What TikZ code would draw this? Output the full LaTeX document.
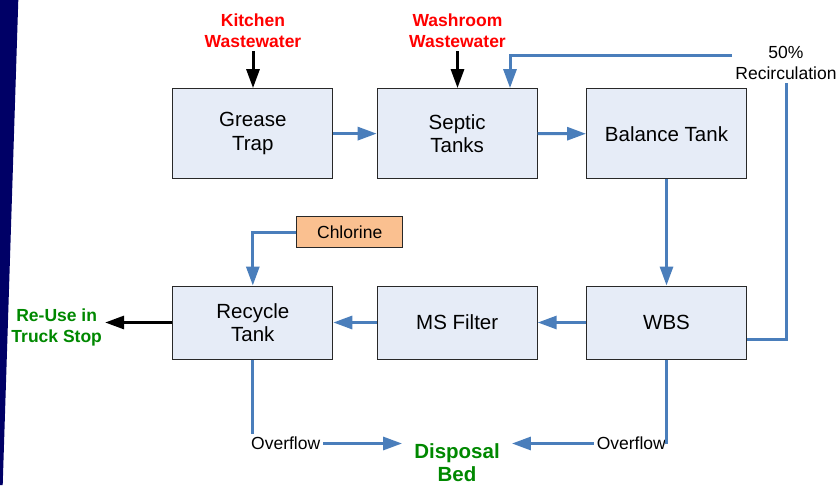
\documentclass[tikz,border=0pt]{standalone}
\usepackage{fontspec}
\setmainfont{Liberation Sans}
\usetikzlibrary{arrows.meta}
\definecolor{flowblue}{RGB}{74,126,187}
\definecolor{boxfill}{RGB}{230,236,247}
\definecolor{chlorfill}{RGB}{250,192,144}
\definecolor{navybar}{RGB}{0,0,102}
\definecolor{lblgreen}{RGB}{0,136,0}
\definecolor{boxline}{RGB}{40,40,40}

\begin{document}
\begin{tikzpicture}[x=1pt,y=-1pt,
  unit/.style={draw=boxline, line width=1pt, fill=boxfill, minimum width=160pt,
    inner sep=0pt, align=center, font=\fontsize{20.5}{23.6}\selectfont},
  toprow/.style={unit, minimum height=90pt},
  lowrow/.style={unit, minimum height=73pt},
  lbl/.style={inner sep=3pt, align=center, font=\fontsize{17.5}{21}\selectfont},
  redlbl/.style={lbl, text=red, font=\fontsize{17.5}{21}\selectfont\bfseries},
  grnlbl/.style={lbl, text=lblgreen, font=\fontsize{17.5}{21}\selectfont\bfseries},
  flow/.style={draw=flowblue, line width=3pt, -{Triangle[length=19pt,width=13pt]}},
  pipe/.style={draw=flowblue, line width=3pt},
  feed/.style={draw=black, line width=3pt, -{Triangle[length=19pt,width=13pt]}}]
\useasboundingbox (0,0) rectangle (837,485);
\fill[navybar] (0,0) -- (18.3,0) -- (2.7,485) -- (0,485) -- cycle;

% treatment units
\node[toprow] (grease) at (252.8,133.6) {Grease\\Trap};
\node[toprow] (septic) at (457.2,133.6) {Septic\\Tanks};
\node[toprow] (balance) at (666.5,133.8) {Balance Tank};
\node[lowrow] (wbs) at (666.5,322.5) {WBS};
\node[lowrow] (msf) at (457.2,322.5) {MS Filter};
\node[lowrow] (recycle) at (252.8,322.5) {Recycle\\Tank};
\node[draw=boxline, line width=1pt, fill=chlorfill, minimum width=106pt, minimum height=31pt,
  inner sep=0pt, font=\fontsize{17.5}{21}\selectfont] (chlor) at (349.7,232.3) {Chlorine};

% inlets and outlets
\node[redlbl, anchor=south] (kitchen) at (253,51) {Kitchen\\Wastewater};
\node[redlbl, anchor=south] (washroom) at (457.5,51) {Washroom\\Wastewater};
\node[lbl] (recirc) at (786,63) {50\%\\Recirculation};
\node[grnlbl] (reuse) at (56.7,327.5) {Re-Use in\\Truck Stop};
\node[grnlbl, inner xsep=12pt, font=\fontsize{20.5}{23.2}\selectfont\bfseries] (disp) at (457,462.5) {Disposal\\Bed};
\node[lbl, anchor=west] (ovl) at (248,443.5) {Overflow};
\node[lbl, anchor=east] (ovr) at (669,443.5) {Overflow};

% main flow
\draw[feed] (kitchen.south) -- (kitchen.south |- grease.north);
\draw[feed] (washroom.south) -- (washroom.south |- septic.north);
\draw[flow] (grease) -- (septic);
\draw[flow] (septic) -- (balance);
\draw[flow] (balance) -- (wbs);
\draw[flow] (wbs) -- (msf);
\draw[flow] (msf) -- (recycle);
\draw[flow] (chlor.west) -| (recycle.north);
\draw[feed] (recycle.west) -- (recycle.west -| reuse.east);

% recirculation
\draw[pipe] ([yshift=-17pt]wbs.east) -| (recirc.south);
\draw[flow] ([yshift=7.5pt]recirc.west) -| ([xshift=52.8pt]septic.north);

% overflow to disposal bed
\draw[pipe] (recycle.south) -- (recycle.south |- ovl.north);
\draw[flow] (ovl.east) -- (ovl.east -| disp.west);
\draw[pipe] (wbs.south) -- (wbs.south |- ovr.east);
\draw[flow] (ovr.west) -- (ovr.west -| disp.east);
\end{tikzpicture}
\end{document}
